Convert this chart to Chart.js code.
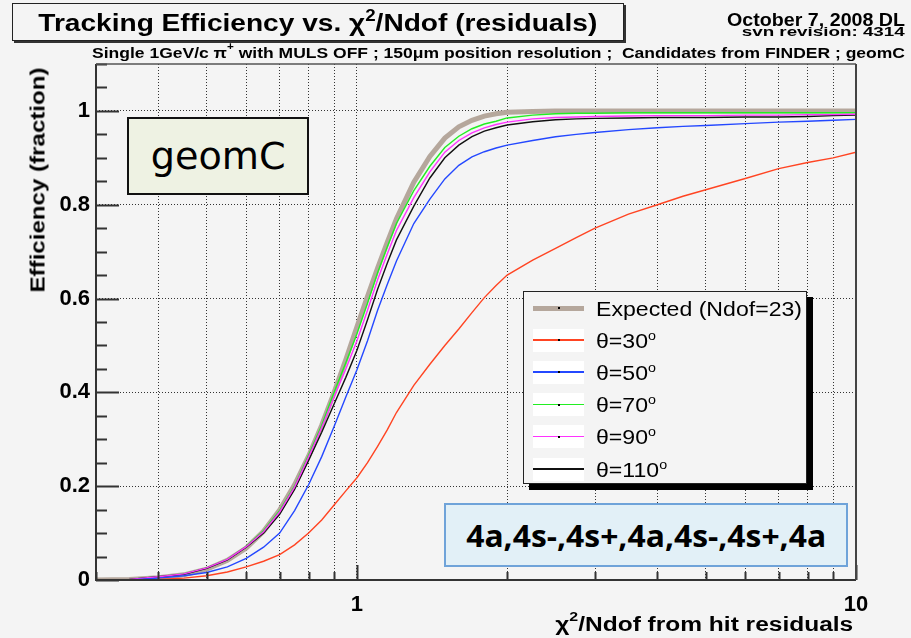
<!DOCTYPE html>
<html><head><meta charset="utf-8">
<script src="https://cdn.jsdelivr.net/npm/chart.js@4"></script>
<style>
html,body{margin:0;padding:0;background:#f4f4f4;}
#wrap{position:relative;width:911px;height:638px;overflow:hidden;background:#f4f4f4;font-family:"Liberation Sans",Arial,sans-serif;color:#000;}
canvas{position:absolute;left:0;top:0;}
.t{position:absolute;white-space:nowrap;line-height:1;}
#titlebox{position:absolute;left:12px;top:3px;width:612px;height:38px;box-sizing:border-box;border:1.5px solid #222;box-shadow:2px 2px 0 #333;background:#f4f4f4;display:flex;align-items:center;justify-content:center;}
#titletxt{display:inline-block;font-weight:bold;font-size:24px;line-height:1;white-space:nowrap;}
#geom{position:absolute;left:127px;top:117px;width:182px;height:78px;box-sizing:border-box;border:2px solid #111;background:#eef2e3;display:flex;align-items:center;justify-content:center;}
#geomtxt{display:inline-block;font-family:"DejaVu Sans","Noto Sans",sans-serif;font-size:38px;line-height:1;}
#seq{position:absolute;left:444px;top:503px;width:404px;height:64px;box-sizing:border-box;border:2px solid #6fa3d9;background:#e2f0f7;display:flex;align-items:center;justify-content:center;}
#seqtxt{display:inline-block;font-family:"Open Sans","Noto Sans",sans-serif;font-weight:bold;font-size:31px;line-height:1;white-space:nowrap;}
#legend{position:absolute;left:523px;top:291px;width:284px;height:193px;box-sizing:border-box;border:1.5px solid #222;box-shadow:6px 6px 0 #000;background:#f4f4f4;}
.row{position:absolute;left:0;width:100%;height:0;}
.patch{position:absolute;left:9px;width:51px;height:23px;top:-11.5px;background:#fff;}
.ln{position:absolute;left:9px;width:51px;}
.dot{position:absolute;left:33.5px;top:-1px;width:2px;height:2px;background:#000;}
.lt{position:absolute;left:72px;top:-10.5px;font-size:21px;line-height:1;white-space:nowrap;transform-origin:0 50%;}
.lt sup{font-size:13px;vertical-align:0;position:relative;top:-8px;}
</style></head>
<body>
<div id="wrap">
<canvas id="c" width="911" height="638"></canvas>
<div id="titlebox"><span id="titletxt">Tracking Efficiency vs. χ<sup style="font-size:16px;position:relative;top:-1px">2</sup>/Ndof (residuals)</span></div>
<div class="t" id="date" style="right:6px;top:10.5px;font-size:18px;font-weight:bold;">October 7, 2008 DL</div>
<div class="t" id="svn" style="right:6px;top:25px;font-size:13px;font-weight:bold;">svn revision: 4314</div>
<div class="t" id="sub" style="left:92px;top:44px;font-size:15px;font-weight:bold;">Single 1GeV/c π<sup style="font-size:10px;position:relative;top:-2px">+</sup> with MULS OFF ; 150μm position resolution ;&nbsp; Candidates from FINDER ; geomC</div>
<div class="t" id="xtitle" style="right:58px;top:612px;font-size:20px;font-weight:bold;">χ<sup style="font-size:13px;position:relative;top:-2px">2</sup>/Ndof from hit residuals</div>
<div class="t" id="ytitle" style="left:37px;top:179.5px;font-size:21px;font-weight:bold;">Efficiency (fraction)</div>
<div id="geom"><span id="geomtxt">geomC</span></div>
<div id="seq"><span id="seqtxt">4a,4s-,4s+,4a,4s-,4s+,4a</span></div>
<div id="legend"></div>
</div>
<script>
// ---- data ----
const xValues = [0.3,0.35,0.4,0.45,0.5,0.55,0.6,0.65,0.7,0.75,0.8,0.85,0.9,0.95,1.0,1.05,1.1,1.15,1.2,1.3,1.4,1.5,1.6,1.7,1.8,1.9,2.0,2.25,2.5,2.75,3,3.5,4,4.5,5,6,7,8,9,10];
const expected = [0,0.001,0.005,0.011,0.023,0.042,0.068,0.104,0.149,0.203,0.264,0.33,0.40,0.47,0.54,0.605,0.665,0.72,0.77,0.848,0.903,0.942,0.966,0.98,0.989,0.994,0.997,0.999,1,1,1,1,1,1,1,1,1,1,1,1];
const theta30 = [0,0,0.001,0.004,0.009,0.017,0.028,0.04,0.054,0.075,0.10,0.128,0.16,0.19,0.218,0.25,0.285,0.32,0.357,0.415,0.46,0.50,0.535,0.57,0.602,0.628,0.65,0.682,0.707,0.73,0.75,0.78,0.80,0.818,0.832,0.856,0.877,0.89,0.90,0.912];
const theta50 = [0,0,0.004,0.009,0.016,0.028,0.046,0.07,0.10,0.148,0.203,0.263,0.327,0.39,0.448,0.51,0.575,0.63,0.68,0.76,0.812,0.855,0.884,0.902,0.913,0.921,0.927,0.937,0.945,0.950,0.954,0.96,0.964,0.967,0.969,0.973,0.976,0.978,0.98,0.982];
const theta70 = [0,0.001,0.007,0.013,0.026,0.044,0.072,0.105,0.148,0.2,0.266,0.33,0.40,0.463,0.525,0.59,0.655,0.71,0.76,0.83,0.882,0.922,0.946,0.962,0.972,0.978,0.985,0.991,0.994,0.995,0.995,0.996,0.996,0.996,0.996,0.996,0.996,0.996,0.996,0.996];
const theta90 = [0,0.001,0.007,0.013,0.026,0.044,0.071,0.103,0.145,0.198,0.262,0.325,0.39,0.45,0.51,0.575,0.64,0.695,0.745,0.815,0.87,0.912,0.937,0.953,0.964,0.971,0.976,0.983,0.986,0.987,0.988,0.989,0.99,0.99,0.99,0.991,0.991,0.992,0.992,0.993];
const theta110 = [0,0.001,0.007,0.012,0.025,0.043,0.07,0.1,0.14,0.193,0.255,0.315,0.375,0.432,0.49,0.555,0.62,0.675,0.725,0.797,0.857,0.9,0.927,0.945,0.957,0.964,0.97,0.977,0.981,0.983,0.984,0.985,0.986,0.986,0.986,0.987,0.987,0.988,0.99,0.991];
const seriesNames = ["Expected (Ndof=23)","θ=30","θ=50","θ=70","θ=90","θ=110"];
const xTickValues = [0.3,0.4,0.5,0.6,0.7,0.8,0.9,1,2,3,4,5,6,7,8,9,10];
const xTickLabels = {1:"1",10:"10"};
const yTickValues = [0,0.2,0.4,0.6,0.8,1.0];
const yTickLabels = ["0","0.2","0.4","0.6","0.8","1"];

// ---- styles ----
const seriesData = [expected,theta30,theta50,theta70,theta90,theta110];
const colors = ["#b5a79c","#ff4422","#2448ff","#22ee22","#ff33ff","#111111"];
const widths = [5,1.4,1.4,1.4,1.4,1.4];
const orders = [10,1,2,5,3,4];
const FONT = '"Liberation Sans", Arial, sans-serif';

const datasets = seriesData.map((arr,i)=>({
  label: seriesNames[i],
  data: xValues.map((x,j)=>({x:x,y:arr[j]})),
  borderColor: colors[i],
  backgroundColor: colors[i],
  borderWidth: widths[i],
  pointRadius: 0,
  tension: 0,
  fill: false,
  order: orders[i]
}));

const frame = {
  id:'frame',
  afterDraw(c){
    const {ctx, chartArea:a, scales:{x,y}} = c;
    ctx.save();
    ctx.strokeStyle = '#333';
    ctx.lineWidth = 2;
    ctx.beginPath();
    for(let k=0;k<=22;k++){
      const v = k*0.05;
      const py = Math.round(y.getPixelForValue(v))+0.5;
      const len = (k%4===0) ? 23 : 11;
      ctx.moveTo(a.left, py); ctx.lineTo(a.left+len, py);
    }
    xTickValues.forEach(v=>{
      const px = Math.round(x.getPixelForValue(v))+0.5;
      const len = (v===1||v===10) ? 15 : 8;
      ctx.moveTo(px, a.bottom); ctx.lineTo(px, a.bottom-len);
    });
    ctx.stroke();
    ctx.beginPath();
    ctx.moveTo(a.left, a.top); ctx.lineTo(a.left, a.bottom); ctx.lineTo(a.right, a.bottom);
    ctx.stroke();
    ctx.strokeStyle = '#555';
    ctx.lineWidth = 1.5;
    ctx.beginPath();
    ctx.moveTo(a.left, a.top); ctx.lineTo(a.right, a.top);
    ctx.stroke();
    ctx.strokeStyle = '#444';
    ctx.lineWidth = 2;
    ctx.beginPath();
    ctx.moveTo(a.right, a.top); ctx.lineTo(a.right, a.bottom);
    ctx.stroke();
    ctx.restore();
  }
};

new Chart(document.getElementById('c').getContext('2d'), {
  type:'line',
  data:{datasets},
  options:{
    responsive:false, animation:false, devicePixelRatio:1,
    layout:{padding:{left:0,right:55,top:64,bottom:0}},
    plugins:{legend:{display:false},tooltip:{enabled:false},title:{display:false}},
    scales:{
      x:{
        type:'logarithmic', min:0.3, max:10,
        afterBuildTicks:s=>{ s.ticks = xTickValues.map(v=>({value:v})); },
        afterFit:s=>{ s.height = 58; },
        grid:{color:'#333', lineWidth:1, drawTicks:false},
        border:{display:false, dash:[1,2]},
        ticks:{autoSkip:false, maxRotation:0, padding:12, color:'#000',
          font:{family:FONT, size:22, weight:'bold'},
          callback:(v)=> xTickLabels[v] || ''}
      },
      y:{
        type:'linear', min:0, max:1.1,
        afterBuildTicks:s=>{ s.ticks = yTickValues.map(v=>({value:v})); },
        afterFit:s=>{ s.width = 96; },
        grid:{color:'#333', lineWidth:1, drawTicks:false},
        border:{display:false, dash:[1,2]},
        ticks:{padding:6, color:'#000',
          font:{family:FONT, size:22, weight:'bold'},
          callback:(v,i)=> yTickLabels[i]}
      }
    }
  },
  plugins:[frame]
});

// legend built from the series
const leg = document.getElementById('legend');
const rowY = [16,48,80,112.5,144.5,177];
const legTexts = [];
seriesNames.forEach((name,i)=>{
  const r = document.createElement('div');
  r.className='row'; r.style.top = rowY[i]+'px';
  if(i>0){ const p=document.createElement('div'); p.className='patch'; r.appendChild(p); }
  const l = document.createElement('div');
  l.className='ln';
  l.style.height = widths[i]+'px';
  l.style.top = (-widths[i]/2)+'px';
  l.style.background = colors[i];
  r.appendChild(l);
  if(i<5){ const d=document.createElement('div'); d.className='dot'; r.appendChild(d); }
  const t = document.createElement('div');
  t.className='lt';
  t.textContent = name;
  if(i>0){ const s=document.createElement('sup'); s.textContent='o'; t.appendChild(s); }
  r.appendChild(t);
  leg.appendChild(r);
  legTexts.push(t);
});

// horizontal stretch of texts to the widths seen in the reference
function fitX(el, target, origin, pre){
  const w = el.getBoundingClientRect().width;
  el.style.transformOrigin = origin;
  el.style.transform = (pre||'') + ' scaleX(' + (target/w) + ')';
}
fitX(document.getElementById('titletxt'), 559, '50% 50%');
fitX(document.getElementById('date'), 178, '100% 50%');
fitX(document.getElementById('svn'), 163, '100% 50%');
fitX(document.getElementById('sub'), 813, '0 50%');
fitX(document.getElementById('xtitle'), 298, '100% 50%');
fitX(document.getElementById('seqtxt'), 360, '50% 50%');
fitX(document.getElementById('geomtxt'), 135, '50% 50%');
fitX(document.getElementById('ytitle'), 225, '50% 50%', 'translate(-50%,-50%) rotate(-90deg)');
const lw = legTexts[0].getBoundingClientRect().width;
const ls = 206/lw;
legTexts.forEach(t=>{ t.style.transform = 'scaleX(' + ls + ')'; });
</script>
</body></html>
